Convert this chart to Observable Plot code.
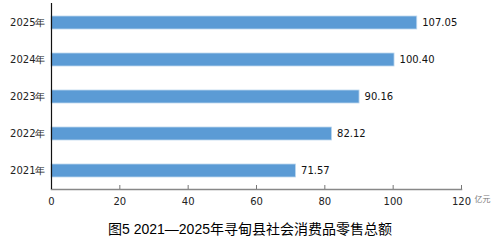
<!DOCTYPE html>
<html><head><meta charset="utf-8">
<script src="https://cdn.jsdelivr.net/npm/d3@7"></script>
<script src="https://cdn.jsdelivr.net/npm/@observablehq/plot@0.6"></script>
<style>
body{margin:0;background:#fff;}
#wrap{width:500px;height:241px;position:relative;overflow:hidden;}
#cap{position:absolute;left:0;top:219px;width:500px;text-align:center;font-family:"Liberation Sans","Noto Sans CJK SC",sans-serif;font-size:14px;font-weight:normal;color:#000;line-height:20px;}
</style></head>
<body><div id="wrap"><div id="chart"></div><div id="cap">图5 2021—2025年寻甸县社会消费品零售总额</div></div>
<script>
const years = ["2025年","2024年","2023年","2022年","2021年"];
const values = [107.05, 100.40, 90.16, 82.12, 71.57];
const xTicks = [0,20,40,60,80,100,120];
const unit = "亿元";

const data = years.map((y,i)=>({year:y, value:values[i]}));
const H = 213, mT = 3, mB = 24;
const chart = Plot.plot({
  width: 500, height: H,
  marginLeft: 51, marginRight: 39, marginTop: mT, marginBottom: mB,
  style: {fontFamily: "DejaVu Sans, sans-serif", fontSize: "10px", background: "#fff"},
  x: {domain: [0,120], ticks: xTicks, label: null},
  y: {domain: years, paddingInner: 0.65, paddingOuter: 0.325, label: null},
  marks: [
    Plot.barX(data, {y: "year", x: "value", fill: "#5B9BD5", stroke: "#BDD7EE", strokeWidth: 0.8}),
    Plot.text(data, {y: "year", x: "value", text: d => d.value.toFixed(2), textAnchor: "start", dx: 5, fill: "#111", fontSize: 10}),
    Plot.frame({anchor: "bottom", stroke: "#888", strokeWidth: 1.5}),
    Plot.ruleX(xTicks.slice(1), {x: d=>d, insetTop: H - mT - mB - 4, stroke: "#777", strokeWidth: 1}),
    Plot.ruleX([0], {stroke: "#111", strokeWidth: 1.2}),
    Plot.axisX({ticks: xTicks, tickSize: 0, tickPadding: 8, fill: "#222", fontSize: 10, tickFormat: d=>d}),
    Plot.axisY({tickSize: 0, tickPadding: 6, fill: "#222", fontSize: 10}),
    Plot.text([unit], {x: 120, frameAnchor: "bottom", dy: 12, dx: 21, text: d=>d, fill: "#777", fontSize: 8, fontFamily: "Noto Sans CJK SC", textAnchor: "middle"})
  ]
});
document.getElementById("chart").appendChild(chart);
</script></body></html>
